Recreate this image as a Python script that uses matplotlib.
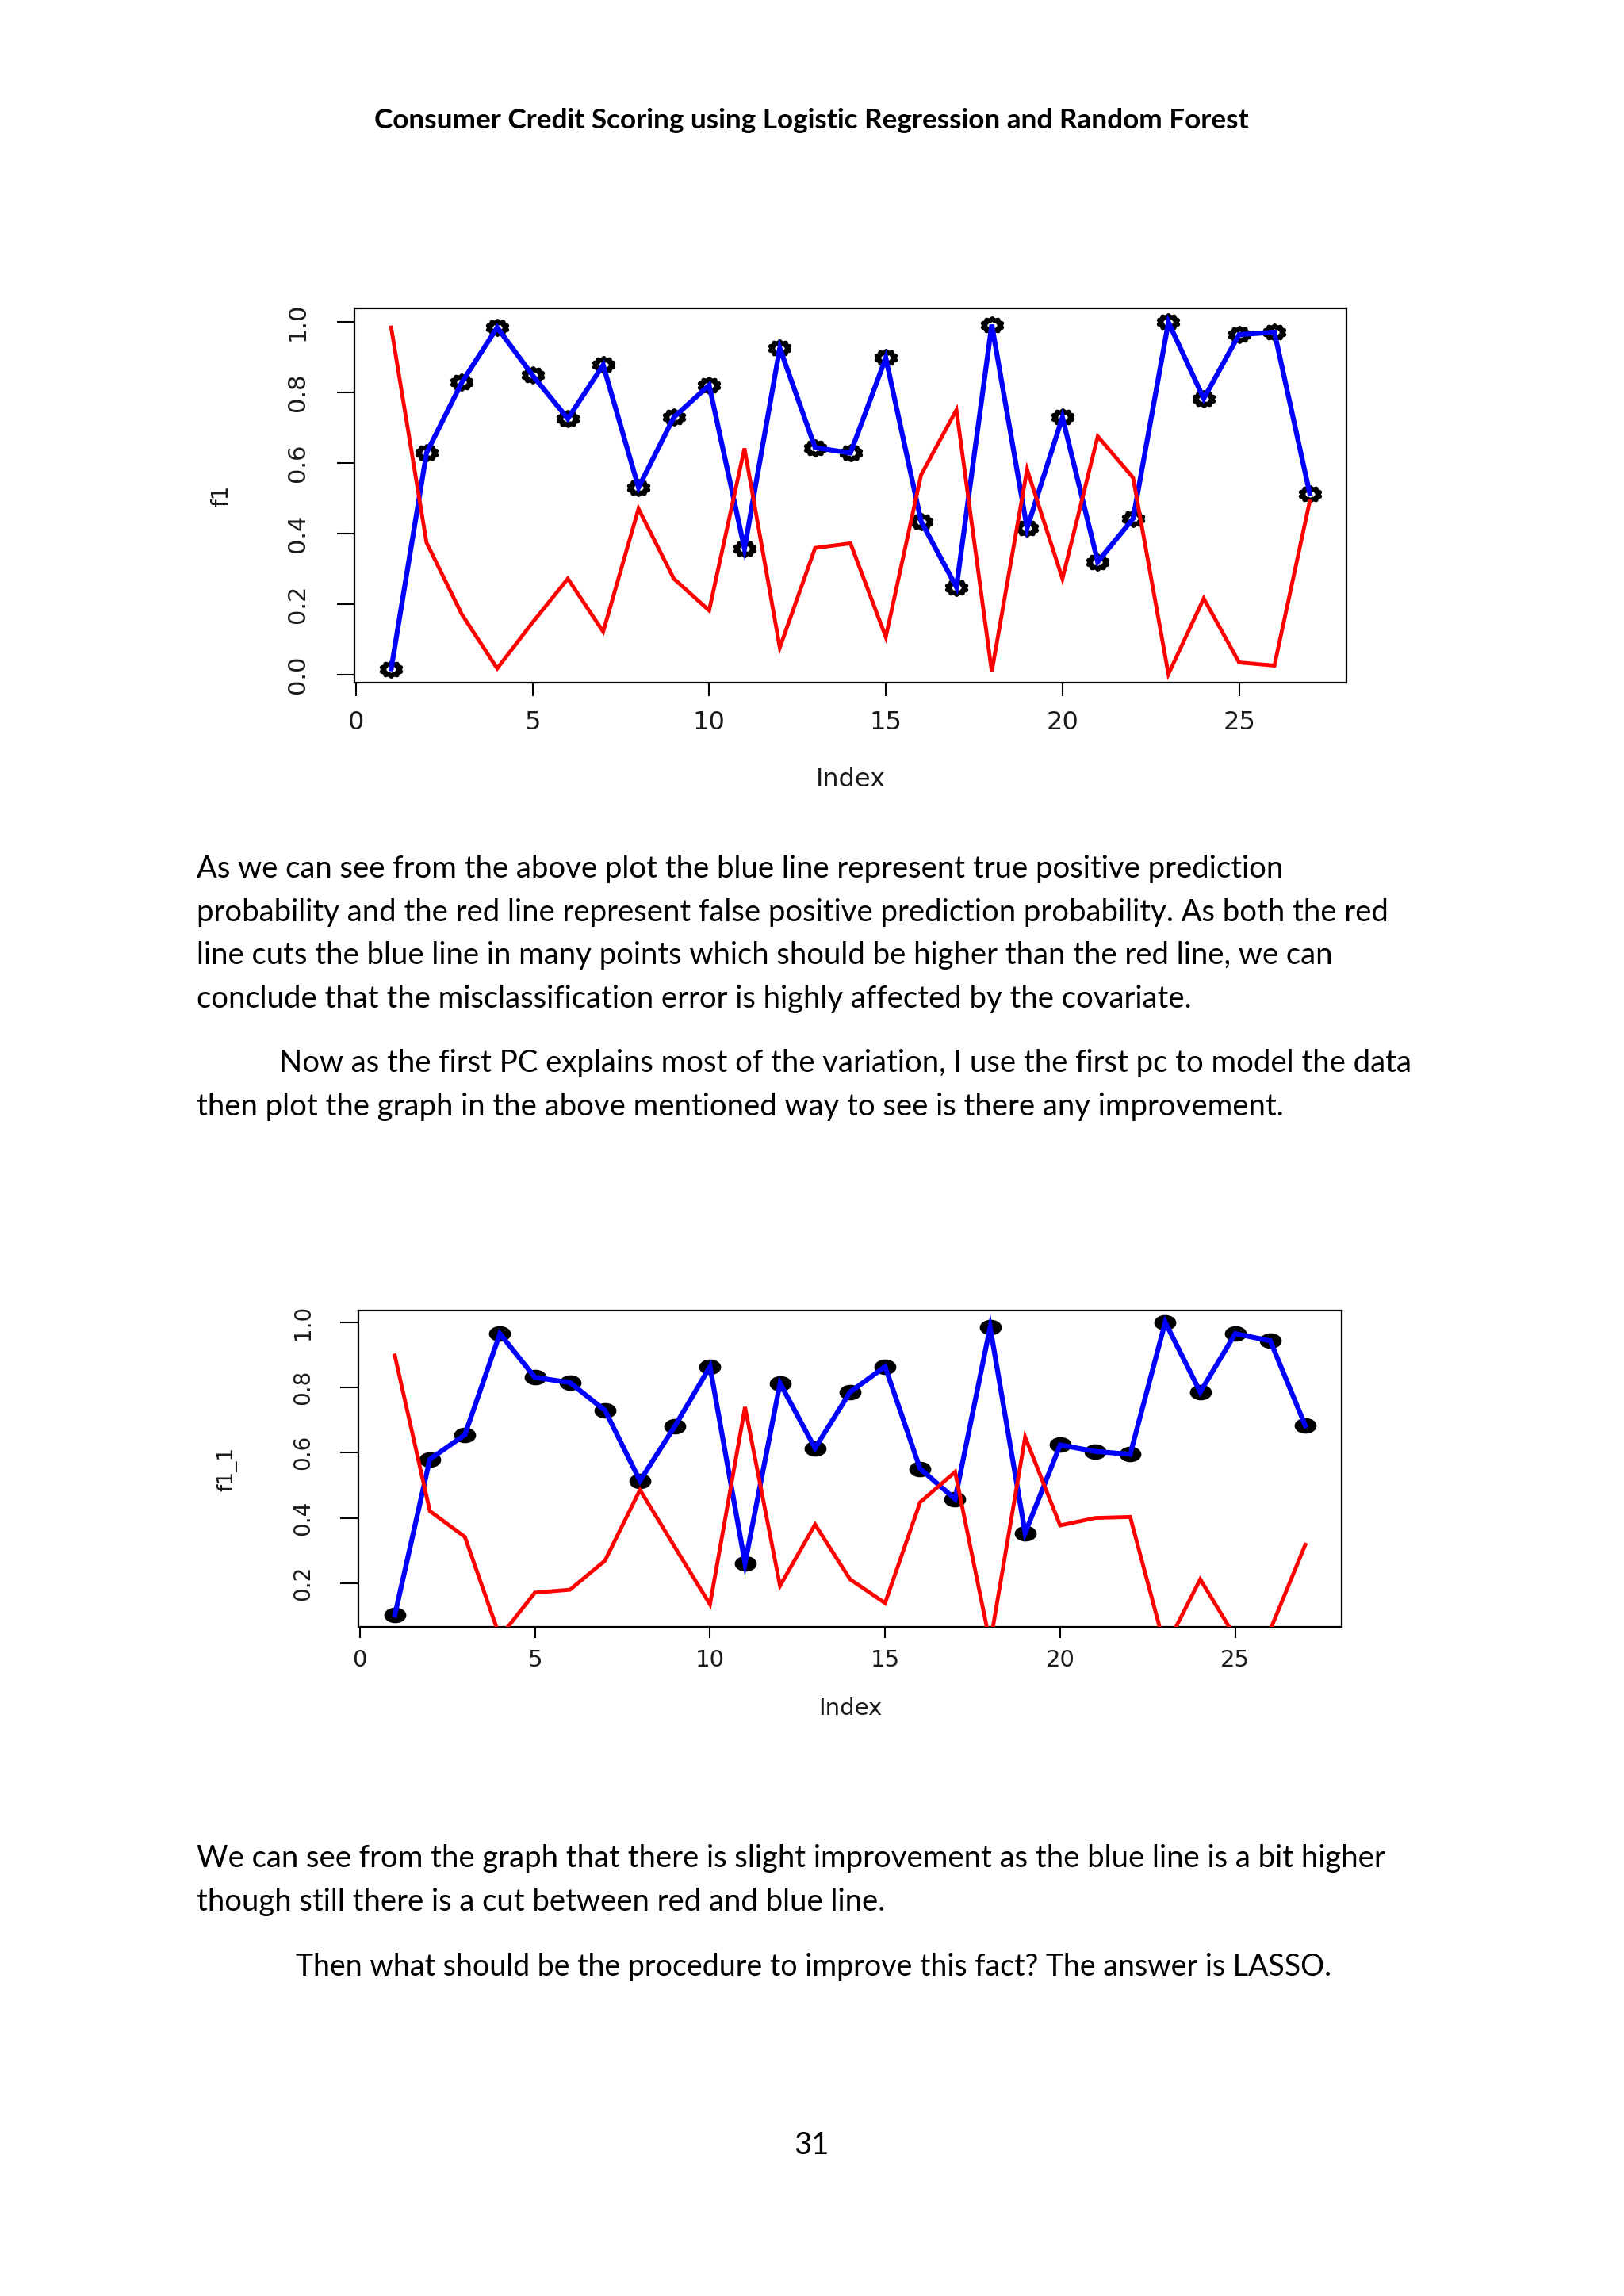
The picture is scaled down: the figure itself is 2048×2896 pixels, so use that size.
import matplotlib.pyplot as plt
from matplotlib.path import Path
from matplotlib.transforms import Affine2D

# data (index 1..27)
index = list(range(1, 28))
f1_blue = [0.017, 0.628, 0.828, 0.983, 0.848, 0.725, 0.877, 0.530, 0.729, 0.820,
           0.357, 0.925, 0.643, 0.628, 0.897, 0.434, 0.248, 0.991, 0.415, 0.729,
           0.320, 0.442, 0.998, 0.782, 0.963, 0.970, 0.513]
f1_red = [0.983, 0.374, 0.171, 0.018, 0.148, 0.272, 0.122, 0.470, 0.272, 0.182,
          0.641, 0.077, 0.359, 0.372, 0.107, 0.566, 0.750, 0.009, 0.581, 0.272,
          0.675, 0.558, 0.002, 0.216, 0.035, 0.026, 0.491]
f1_1_blue = [0.102, 0.580, 0.655, 0.965, 0.831, 0.815, 0.730, 0.514, 0.682, 0.864,
             0.261, 0.813, 0.614, 0.786, 0.864, 0.551, 0.458, 0.985, 0.354, 0.624,
             0.604, 0.595, 1.000, 0.786, 0.965, 0.943, 0.683]
f1_1_red = [0.898, 0.421, 0.342, 0.035, 0.171, 0.180, 0.269, 0.486, 0.310, 0.135,
            0.740, 0.192, 0.380, 0.212, 0.139, 0.448, 0.541, 0.015, 0.648, 0.377,
            0.400, 0.403, 0.001, 0.212, 0.035, 0.057, 0.318]

x_ticks = [0, 5, 10, 15, 20, 25]
y_ticks_1 = [0.0, 0.2, 0.4, 0.6, 0.8, 1.0]
y_ticks_2 = [0.2, 0.4, 0.6, 0.8, 1.0]

title = "Consumer Credit Scoring using Logistic Regression and Random Forest"
para1 = [
    "As we can see from the above plot the blue line represent true positive prediction",
    "probability and the red line represent false positive prediction probability. As both the red",
    "line cuts the blue line in many points which should be higher than the red line, we can",
    "conclude that the misclassification error is highly affected by the covariate.",
]
para2 = [
    "Now as the first PC explains most of the variation, I use the first pc to model the data",
    "then plot the graph in the above mentioned way to see is there any improvement.",
]
para3 = [
    "We can see from the graph that there is slight improvement as the blue line is a bit higher",
    "though still there is a cut between red and blue line.",
]
para4 = "Then what should be the procedure to improve this fact? The answer is LASSO."
page_no = "31"

W, H = 2048, 2896
fig = plt.figure(figsize=(W / 100, H / 100), dpi=100)
fig.patch.set_facecolor("white")

body = dict(family=["Lato", "DejaVu Sans"], fontsize=27.5, color="black", va="baseline")


def put(x, y, s, **kw):
    opts = dict(body)
    opts.update(kw)
    fig.text(x / W, 1 - y / H, s, **opts)


def add_px_axes(left, top, right, bottom):
    return fig.add_axes([left / W, 1 - bottom / H, (right - left) / W, (bottom - top) / H])


# the R images were stretched sideways when pasted, so the markers are ellipses
stretch = Affine2D().scale(1.45, 1.0)
dot = stretch.transform_path(Path.unit_circle())
gear = stretch.transform_path(Path.unit_regular_star(10, 0.72))

r_font = ["DejaVu Sans"]
tick_col = "#1a1a1a"


def r_plot(ax, blue, red, yticks, ylab, marker, msize, mface, mew,
           xt_size, yt_size, lab_size, ylab_size, xtick_len, ytick_len,
           xlab_y, ylab_x, xpad, ypad):
    lo, hi = min(blue), max(blue)
    r = hi - lo
    ax.set_ylim(lo - 0.04 * r, hi + 0.04 * r)
    ax.set_xlim(1 - 0.04 * 26, 27 + 0.04 * 26)
    ax.plot(index, blue, linestyle="none", marker=marker, markersize=msize,
            markerfacecolor=mface, markeredgecolor="black", markeredgewidth=mew, zorder=2)
    ax.plot(index, blue, color="#0000ff", lw=4.5, zorder=3, solid_joinstyle="miter")
    ax.plot(index, red, color="#ff0000", lw=3.5, zorder=4, solid_joinstyle="miter")
    ax.set_xticks(x_ticks)
    ax.set_xticklabels([str(v) for v in x_ticks], family=r_font, fontsize=xt_size, color=tick_col)
    ax.set_yticks(yticks)
    ax.set_yticklabels(["%.1f" % v for v in yticks], family=r_font, fontsize=yt_size,
                       color=tick_col, rotation=90, va="center")
    ax.tick_params(axis="x", direction="out", length=xtick_len, width=1.5, pad=xpad)
    ax.tick_params(axis="y", direction="out", length=ytick_len, width=1.5, pad=ypad)
    for s in ax.spines.values():
        s.set_linewidth(1.6)
        s.set_color("black")
    ax.set_xlabel("Index", family=r_font, fontsize=lab_size, color=tick_col)
    ax.set_ylabel(ylab, family=r_font, fontsize=ylab_size, color=tick_col)
    ax.xaxis.label.set_va("center")
    ax.yaxis.label.set_va("center")
    ax.xaxis.set_label_coords(0.5, xlab_y)
    ax.yaxis.set_label_coords(ylab_x, 0.5)
    ax.set_facecolor("white")


# first plot: f1
ax1 = add_px_axes(447, 389, 1698, 861)
r_plot(ax1, f1_blue, f1_red, y_ticks_1, "f1", gear, 17, "white", 4.2,
       23, 22, 23, 20, 12, 16, (861 - 984) / 472.0, (279 - 447) / 1251.0, 13, 25)

# second plot: f1_1
ax2 = add_px_axes(452, 1653, 1692, 2052)
r_plot(ax2, f1_1_blue, f1_1_red, y_ticks_2, "f1_1", dot, 19, "black", 1.0,
       21, 20, 21, 19, 10, 16.5, (2052 - 2155) / 399.0, (286 - 452) / 1240.0, 10, 24)

# page text
put(1023, 162, title, ha="center", fontweight="bold", fontsize=25.3)

y = 1107
for line in para1:
    put(248, y, line)
    y += 54.6
put(352, 1352, para2[0])
put(248, 1407, para2[1])

put(248, 2355, para3[0])
put(248, 2410, para3[1])
put(373, 2492, para4, fontsize=27)

put(1024, 2717, page_no, ha="center")

fig.savefig("out.png", dpi=100, facecolor="white")
